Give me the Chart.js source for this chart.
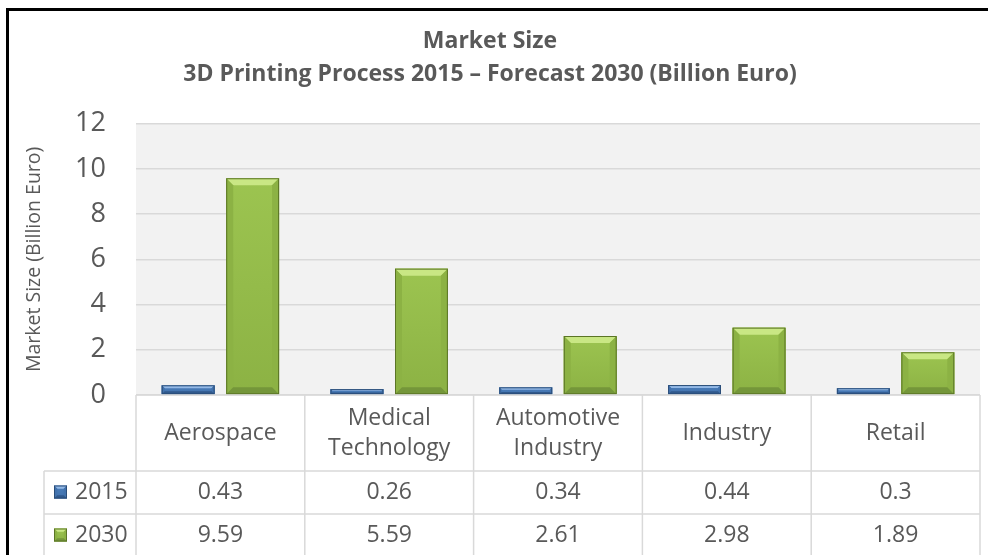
<!DOCTYPE html>
<html>
<head>
<meta charset="utf-8">
<script src="https://cdn.jsdelivr.net/npm/chart.js@4.4.1/dist/chart.umd.min.js"></script>
<style>
  html, body { margin: 0; padding: 0; background: #ffffff; }
  #wrap { width: 988px; height: 555px; }
</style>
</head>
<body>
<div id="wrap"><canvas id="marketChart" width="988" height="555"></canvas></div>
<script>
// chart data
var categoryLines = [["Aerospace"], ["Medical", "Technology"], ["Automotive", "Industry"], ["Industry"], ["Retail"]];
var seriesNames = ["2015", "2030"];
var values2015 = [0.43, 0.26, 0.34, 0.44, 0.3];
var values2030 = [9.59, 5.59, 2.61, 2.98, 1.89];
var yMin = 0, yMax = 12, yStep = 2;

var textGrey = "#595959";
var lineGrey = "#d9d9d9";
var fontName = "'Open Sans', 'DejaVu Sans', sans-serif";

// bevel colours per series
var bevel = [
  { face: "#4a7ebb", light: "#93b9e6", side: "#4272ad", dark: "#30598c", border: "#2a4d78" },
  { face: "#9cc450", light: "#c9e784", side: "#8cb244", dark: "#74963a", border: "#5b7526" },
];

function drawBevelBox(ctx, left, top, right, bottom, c) {
  var w = right - left, h = bottom - top;
  var b = Math.min(7, h / 3, w / 4);
  ctx.save();
  var g = ctx.createLinearGradient(0, top, 0, bottom);
  g.addColorStop(0, c.face);
  g.addColorStop(1, c.side);
  ctx.fillStyle = g;
  ctx.fillRect(left, top, w, h);
  // top facet
  ctx.fillStyle = c.light;
  ctx.beginPath();
  ctx.moveTo(left, top); ctx.lineTo(right, top);
  ctx.lineTo(right - b, top + b); ctx.lineTo(left + b, top + b);
  ctx.closePath(); ctx.fill();
  // side facets
  ctx.fillStyle = c.side;
  ctx.beginPath();
  ctx.moveTo(left, top); ctx.lineTo(left + b, top + b);
  ctx.lineTo(left + b, bottom - b); ctx.lineTo(left, bottom);
  ctx.closePath(); ctx.fill();
  ctx.beginPath();
  ctx.moveTo(right, top); ctx.lineTo(right - b, top + b);
  ctx.lineTo(right - b, bottom - b); ctx.lineTo(right, bottom);
  ctx.closePath(); ctx.fill();
  // bottom facet
  ctx.fillStyle = c.dark;
  ctx.beginPath();
  ctx.moveTo(left, bottom); ctx.lineTo(right, bottom);
  ctx.lineTo(right - b, bottom - b); ctx.lineTo(left + b, bottom - b);
  ctx.closePath(); ctx.fill();
  ctx.strokeStyle = c.border;
  ctx.lineWidth = 1;
  ctx.strokeRect(left + 0.5, top + 0.5, w - 1, h - 1);
  ctx.restore();
}

var plotBackground = {
  id: "plotBackground",
  beforeDraw(chart) {
    var ctx = chart.ctx, a = chart.chartArea;
    ctx.save();
    ctx.fillStyle = "#ffffff";
    ctx.fillRect(0, 0, chart.width, chart.height);
    ctx.fillStyle = "#f2f2f2";
    ctx.fillRect(a.left, a.top, a.right - a.left, a.bottom - a.top);
    ctx.restore();
  },
};

var bevelBars = {
  id: "bevelBars",
  afterDatasetsDraw(chart) {
    var ctx = chart.ctx;
    chart.data.datasets.forEach((ds, i) => {
      chart.getDatasetMeta(i).data.forEach((bar) => {
        var p = bar.getProps(["x", "y", "base", "width"], true);
        drawBevelBox(ctx, p.x - p.width / 2, p.y, p.x + p.width / 2, p.base, bevel[i]);
      });
    });
  },
};

var dataTable = {
  id: "dataTable",
  afterDraw(chart) {
    var ctx = chart.ctx, a = chart.chartArea, xs = chart.scales.x;
    var n = categoryLines.length;
    var colW = (a.right - a.left) / n;
    var headTop = a.bottom, headBottom = a.bottom + 76;
    var rowH = 43;
    var tableLeft = 44;
    var rowsBottom = headBottom + rowH * seriesNames.length;

    ctx.save();
    ctx.strokeStyle = lineGrey;
    ctx.lineWidth = 1.5;
    ctx.beginPath();
    // top line under plot
    ctx.moveTo(a.left, headTop); ctx.lineTo(a.right, headTop);
    // row lines
    for (var r = 0; r <= seriesNames.length; r++) {
      var y = headBottom + r * rowH;
      ctx.moveTo(tableLeft, y); ctx.lineTo(a.right, y);
    }
    // column lines
    for (var c = 0; c <= n; c++) {
      var x = a.left + c * colW;
      ctx.moveTo(x, headTop); ctx.lineTo(x, rowsBottom);
    }
    ctx.moveTo(tableLeft, headBottom); ctx.lineTo(tableLeft, rowsBottom);
    ctx.stroke();

    ctx.fillStyle = textGrey;
    ctx.textAlign = "center";
    ctx.textBaseline = "middle";
    ctx.font = "23px " + fontName;
    categoryLines.forEach((lines, i) => {
      var cx = xs.getPixelForValue(i);
      var cy = (headTop + headBottom) / 2;
      var lh = 30;
      lines.forEach((t, k) => {
        ctx.fillText(t, cx, cy + (k - (lines.length - 1) / 2) * lh);
      });
    });

    var seriesValues = [values2015, values2030];
    seriesValues.forEach((vals, r) => {
      var cy = headBottom + r * rowH + rowH / 2;
      vals.forEach((v, i) => {
        ctx.textAlign = "center";
        ctx.fillText(String(v), xs.getPixelForValue(i), cy);
      });
      drawBevelBox(ctx, 54, cy - 7, 67, cy + 6, bevel[r]);
      ctx.fillStyle = textGrey;
      ctx.textAlign = "left";
      ctx.fillText(seriesNames[r], 75, cy);
    });

    // outer frame of the chart object
    ctx.fillStyle = "#000000";
    ctx.fillRect(6, 9, 3, chart.height - 9);
    ctx.fillRect(6, 8, chart.width - 6, 3);
    ctx.restore();
  },
};

var ctx = document.getElementById("marketChart").getContext("2d");
var chart = new Chart(ctx, {
  type: "bar",
  data: {
    labels: categoryLines.map((l) => l.join(" ")),
    datasets: [
      { label: seriesNames[0], data: values2015, backgroundColor: bevel[0].face },
      { label: seriesNames[1], data: values2030, backgroundColor: bevel[1].face },
    ],
  },
  options: {
    responsive: false,
    animation: false,
    layout: { padding: { left: 0, right: 8, top: 0, bottom: 160 } },
    datasets: { bar: { categoryPercentage: 0.764, barPercentage: 0.82 } },
    plugins: {
      legend: { display: false },
      tooltip: { enabled: false },
      title: {
        display: true,
        text: ["Market Size", "3D Printing Process 2015 \u2013 Forecast 2030 (Billion Euro)"],
        color: textGrey,
        font: { family: fontName, size: 23, weight: "bold", lineHeight: 1.43 },
        padding: { top: 25, bottom: 33 },
      },
    },
    scales: {
      x: { display: false },
      y: {
        min: yMin,
        max: yMax,
        ticks: {
          stepSize: yStep,
          color: textGrey,
          padding: 30,
          font: { family: fontName, size: 27 },
        },
        grid: { color: lineGrey, lineWidth: 1.5, drawTicks: false },
        border: { display: false },
        title: {
          display: true,
          text: "Market Size (Billion Euro)",
          color: textGrey,
          font: { family: fontName, size: 19.5 },
          padding: { top: 23, bottom: 0 },
        },
        afterFit(scale) {
          scale.width = 136;
        },
      },
    },
  },
  plugins: [plotBackground, bevelBars, dataTable],
});
</script>
</body>
</html>
